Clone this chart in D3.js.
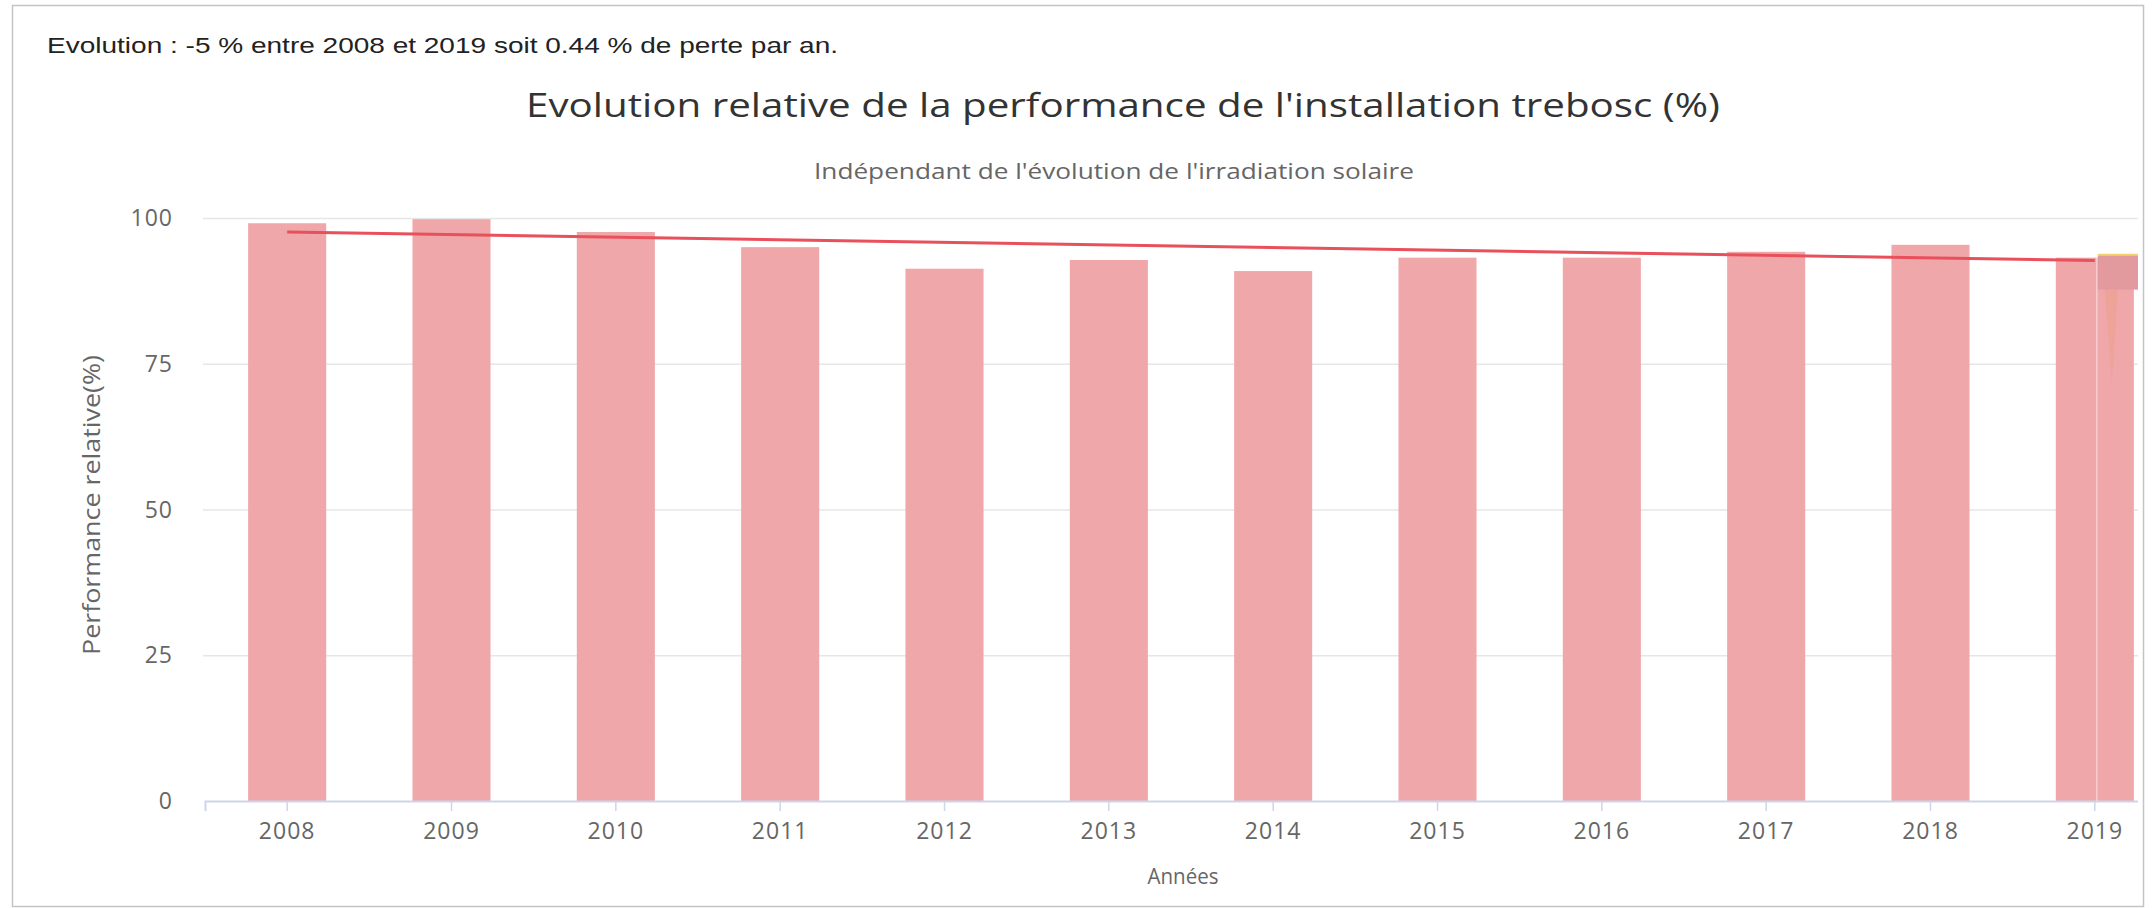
<!DOCTYPE html>
<html>
<head>
<meta charset="utf-8">
<script src="https://cdn.jsdelivr.net/npm/d3@7"></script>
<style>
    html, body { margin: 0; padding: 0; background: #fff; }
    svg { display: block; }
</style>
</head>
<body>
<svg id="chart" width="2152" height="908"></svg>
<script>
// data
const years = ['2008', '2009', '2010', '2011', '2012', '2013', '2014', '2015', '2016', '2017', '2018', '2019'];
const performance = [99.1, 99.8, 97.6, 95.0, 91.3, 92.8, 90.9, 93.2, 93.2, 94.2, 95.4, 93.2];
const trendYears = ['2008', '2019'];
const trendValues = [97.6, 92.7];
const yTicks = [0, 25, 50, 75, 100];

const evolutionText = 'Evolution : -5 % entre 2008 et 2019 soit 0.44 % de perte par an.';
const titleText = "Evolution relative de la performance de l'installation trebosc (%)";
const subtitleText = "Indépendant de l'évolution de l'irradiation solaire";
const yAxisTitle = 'Performance relative(%)';
const xAxisTitle = 'Années';

document.addEventListener('DOMContentLoaded', () => {
    const svg = d3.select('#chart');
    const font = "'Open Sans', 'DejaVu Sans', sans-serif";

    // outer frame of the widget
    svg.append('rect')
        .attr('x', 12.5).attr('y', 5.5)
        .attr('width', 2131).attr('height', 901)
        .attr('fill', '#fff')
        .attr('stroke', '#c4c4c4')
        .attr('stroke-width', 1.5);

    // the screenshot is a bit stretched sideways, so texts get a fixed length
    svg.append('text')
        .attr('x', 47).attr('y', 53)
        .attr('font-family', "'Liberation Sans', Arial, sans-serif")
        .attr('font-size', 22)
        .attr('fill', '#222')
        .attr('textLength', 791)
        .attr('lengthAdjust', 'spacingAndGlyphs')
        .text(evolutionText);

    svg.append('text')
        .attr('x', 1123).attr('y', 117)
        .attr('text-anchor', 'middle')
        .attr('font-family', font)
        .attr('font-size', 33)
        .attr('fill', '#333')
        .attr('textLength', 1194)
        .attr('lengthAdjust', 'spacingAndGlyphs')
        .text(titleText);

    svg.append('text')
        .attr('x', 1114).attr('y', 179)
        .attr('text-anchor', 'middle')
        .attr('font-family', font)
        .attr('font-size', 22)
        .attr('fill', '#666')
        .attr('textLength', 600)
        .attr('lengthAdjust', 'spacingAndGlyphs')
        .text(subtitleText);

    // scales (the right side of the chart is cut off by the frame)
    const x = d3.scaleBand()
        .domain(years)
        .range([205, 2177])
        .paddingInner(0.525)
        .paddingOuter(0.2625);

    const y = d3.scaleLinear()
        .domain([0, 100])
        .range([801, 218]);

    svg.append('defs').append('clipPath')
        .attr('id', 'plotClip')
        .append('rect')
        .attr('x', 140).attr('y', 150)
        .attr('width', 2138 - 140).attr('height', 700);

    const plot = svg.append('g').attr('clip-path', 'url(#plotClip)');

    // gridlines
    plot.append('g')
        .selectAll('line')
        .data(yTicks.filter(d => d > 0))
        .enter()
        .append('line')
        .attr('x1', 203).attr('x2', 2177)
        .attr('y1', d => y(d) + 0.5).attr('y2', d => y(d) + 0.5)
        .attr('stroke', '#e6e6e6')
        .attr('stroke-width', 1.5);

    // bars
    plot.selectAll('.bar')
        .data(performance)
        .enter()
        .append('rect')
        .attr('class', 'bar')
        .attr('x', (d, i) => x(years[i]))
        .attr('y', d => y(d))
        .attr('width', x.bandwidth())
        .attr('height', d => y(0) - y(d))
        .attr('fill', '#f0a7aa');

    // x axis line and ticks
    const xAxis = d3.axisBottom(x).tickSize(10).tickPadding(12);
    const gx = plot.append('g')
        .attr('transform', `translate(0,${y(0)})`)
        .call(xAxis);
    gx.select('.domain').attr('stroke', '#ccd6eb').attr('stroke-width', 2);
    gx.selectAll('.tick line').attr('stroke', '#ccd6eb').attr('stroke-width', 1.5);
    gx.selectAll('.tick text')
        .attr('font-family', font)
        .attr('font-size', 23)
        .attr('letter-spacing', 1)
        .attr('fill', '#666');

    // highlight artefact over the last bar
    const last = years[years.length - 1];
    const lx = x(last) + x.bandwidth() / 2;
    const ly = y(performance[performance.length - 1]);
    plot.append('line')
        .attr('x1', lx + 2).attr('x2', lx + 2)
        .attr('y1', ly).attr('y2', y(0))
        .attr('stroke', 'rgba(255,255,255,0.45)')
        .attr('stroke-width', 1.5);
    plot.append('path')
        .attr('d', `M${lx + 10},${ly + 32} L${lx + 17},${ly + 124} L${lx + 23},${ly + 32} Z`)
        .attr('fill', 'rgba(235,160,140,0.6)');
    plot.append('rect')
        .attr('x', lx + 3).attr('y', ly - 3)
        .attr('width', 45).attr('height', 35)
        .attr('fill', '#e39a9e');
    plot.append('line')
        .attr('x1', lx + 3).attr('x2', lx + 48)
        .attr('y1', ly - 3).attr('y2', ly - 3)
        .attr('stroke', '#f3d36a')
        .attr('stroke-width', 2);

    // trend line
    const line = d3.line()
        .x((d, i) => x(trendYears[i]) + x.bandwidth() / 2)
        .y(d => y(d));
    plot.append('path')
        .datum(trendValues)
        .attr('d', line)
        .attr('fill', 'none')
        .attr('stroke', '#e8505b')
        .attr('stroke-width', 3);

    // y axis labels
    svg.append('g')
        .selectAll('text')
        .data(yTicks)
        .enter()
        .append('text')
        .attr('x', 173)
        .attr('y', d => y(d))
        .attr('dy', '0.35em')
        .attr('text-anchor', 'end')
        .attr('font-family', font)
        .attr('font-size', 23)
        .attr('letter-spacing', 1)
        .attr('fill', '#666')
        .text(d => d);

    // axis titles
    svg.append('text')
        .attr('transform', 'translate(100,505) rotate(-90)')
        .attr('text-anchor', 'middle')
        .attr('font-family', font)
        .attr('font-size', 23)
        .attr('fill', '#666')
        .attr('textLength', 300)
        .attr('lengthAdjust', 'spacingAndGlyphs')
        .text(yAxisTitle);

    svg.append('text')
        .attr('x', 1183).attr('y', 884)
        .attr('text-anchor', 'middle')
        .attr('font-family', font)
        .attr('font-size', 22)
        .attr('fill', '#666')
        .attr('textLength', 71)
        .attr('lengthAdjust', 'spacingAndGlyphs')
        .text(xAxisTitle);
});
</script>
</body>
</html>
